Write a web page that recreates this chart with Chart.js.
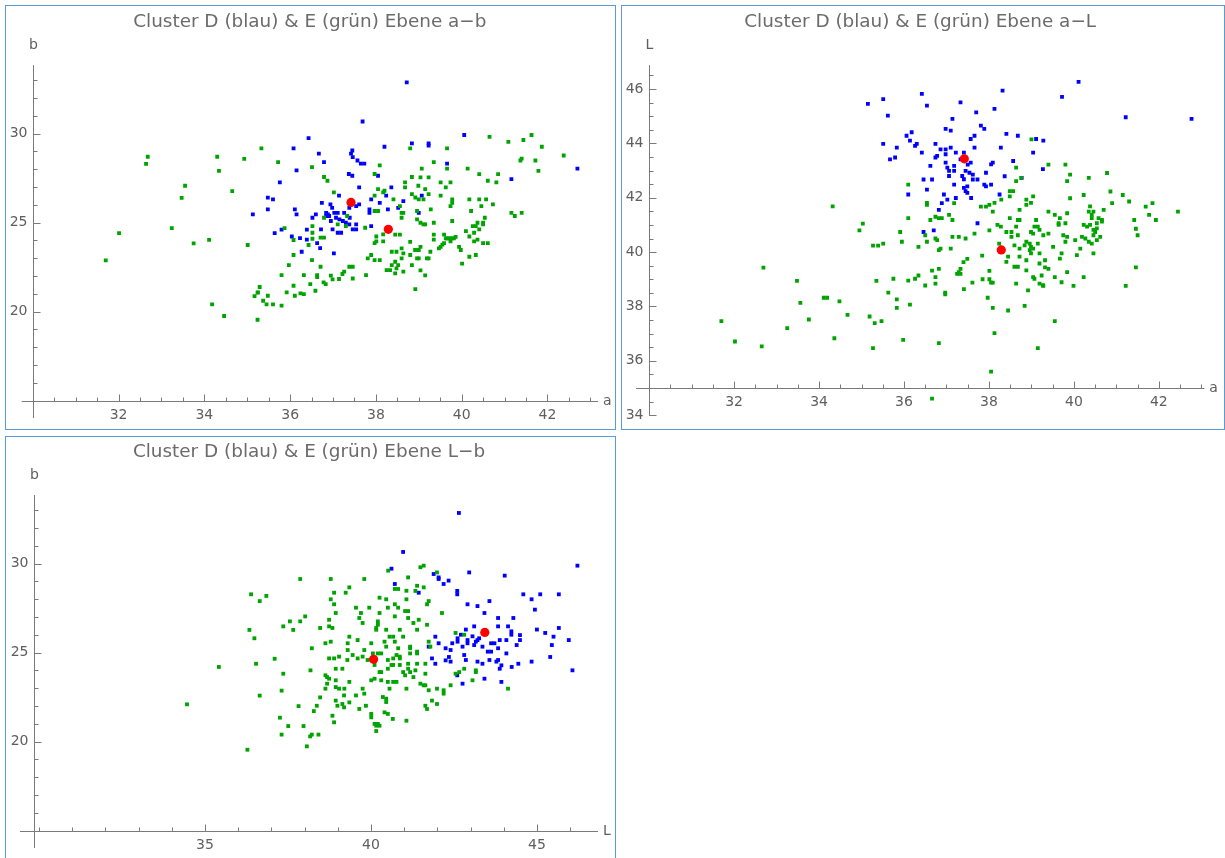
<!DOCTYPE html>
<html>
<head>
<meta charset="utf-8">
<title>Cluster D & E</title>
<script src="https://cdn.jsdelivr.net/npm/chart.js@4.4.1/dist/chart.umd.min.js"></script>
<style>
  html, body { margin: 0; padding: 0; background: #fff; overflow: hidden; }
  .panel { position: absolute; border: 1px solid #5b9bd5; box-sizing: border-box; background: #fff; overflow: hidden; }
  .panel canvas { display: block; }
</style>
</head>
<body>
<div class="panel" style="left:5px;top:5px;width:611px;height:425px"><canvas id="planeAB" width="609" height="423"></canvas></div>
<div class="panel" style="left:621px;top:5px;width:604px;height:425px"><canvas id="planeAL" width="602" height="423"></canvas></div>
<div class="panel" style="left:5px;top:436px;width:611px;height:440px"><canvas id="planeLB" width="609" height="438"></canvas></div>
<script>
// Cluster centres (a, b, L)
const centerA = [37.42, 38.29];
const centerB = [26.13, 24.62];
const centerL = [43.43, 40.08];

// Plane a-b: [a, b]
const abD = [
  [38.72,32.88],[37.69,30.68],[36.43,29.75],[36.08,29.17],[36.67,28.87],[37.45,29.05],[37.42,28.87],[37.46,28.68],
  [37.57,28.49],[37.65,28.31],[37.73,28.31],[36.79,28.40],[38.20,29.26],[38.84,29.45],[36.15,27.93],[37.37,27.73],
  [37.45,27.63],[38.05,27.63],[35.76,27.26],[37.61,26.98],[38.36,26.98],[37.14,26.51],[35.48,26.40],[35.60,26.30],
  [35.48,25.74],[36.11,25.74],[36.15,25.46],[38.24,26.51],[37.89,26.30],[38.09,26.11],[38.64,26.21],[38.52,25.83],
  [36.74,26.11],[36.94,26.02],[36.98,25.83],[37.54,25.93],[37.61,26.02],[37.85,25.74],[37.85,25.55],[38.28,25.74],
  [36.84,25.55],[36.88,25.46],[36.91,25.37],[36.84,25.37],[37.03,25.55],[37.11,25.55],[37.26,25.55],[37.38,25.83],
  [37.39,25.27],[36.60,25.46],[36.52,25.27],[39.00,25.55],[37.15,25.18],[37.07,25.27],[37.23,25.09],[36.95,25.09],
  [37.30,24.99],[37.38,24.90],[37.54,24.90],[37.54,24.62],[37.89,24.80],[36.72,24.62],[36.39,24.60],[35.80,24.60],
  [35.64,24.41],[36.99,24.62],[37.11,24.43],[37.19,24.43],[37.46,24.62],[36.04,24.22],[36.23,24.13],[36.39,24.04],
  [36.63,23.85],[36.70,23.57],[36.27,23.36],[37.02,23.27],[35.13,25.46],[40.06,29.92],[39.23,29.45],[39.23,29.32],
  [39.66,28.31],[42.70,28.03],[41.16,27.44],[39.07,26.51]
];
const abE = [
  [32.68,28.70],[32.64,28.30],[34.30,28.70],[34.93,28.58],[34.34,27.91],[33.55,27.07],[33.47,26.39],[34.65,26.77],
  [33.24,24.69],[32.01,24.41],[33.75,23.83],[34.11,24.03],[35.01,23.74],[31.70,22.88],[35.24,21.06],[35.17,20.87],
  [34.18,20.40],[34.46,19.75],[35.24,19.54],
  [35.33,29.17],[35.72,28.40],[36.51,28.12],[36.79,27.56],[36.87,27.35],[37.02,26.70],[38.09,28.21],[37.97,27.73],
  [38.80,29.17],[38.84,27.56],[38.68,27.26],[38.68,26.98],[38.05,26.88],[38.17,26.70],[38.20,26.79],[37.97,26.51],
  [38.84,26.60],[38.41,26.30],[38.56,25.93],[38.60,25.55],[38.64,25.55],[38.60,25.27],[37.97,25.65],[38.05,25.65],
  [37.33,25.37],[36.79,25.27],[37.11,24.90],[37.30,24.80],[37.75,24.71],[36.52,24.80],[36.52,24.43],[35.87,24.69],
  [36.08,24.02],[36.43,23.74],[36.52,24.09],[36.71,24.15],[36.79,24.15],[38.01,24.22],[38.01,23.94],[38.17,24.34],
  [38.17,23.94],[38.45,24.32],[38.56,24.32],[37.97,23.85],[37.89,23.18],[37.81,22.99],[37.97,22.89],[38.09,22.89],
  [38.37,23.36],[38.48,23.36],[38.60,23.55],[38.64,23.27],[38.80,23.18],[38.92,23.46],[38.60,22.99],[38.45,22.80],
  [38.52,22.61],[38.48,22.43],[38.37,22.61],[38.25,22.33],[38.33,22.33],[38.45,22.15],[38.64,22.24],[38.84,22.61],
  [38.80,23.92],[36.08,23.18],[35.97,22.61],[35.80,22.05],[36.51,22.89],[36.71,22.52],[36.63,22.05],[36.63,21.94],
  [36.32,22.05],[36.95,22.02],[36.99,21.81],[37.22,22.11],[37.26,22.24],[37.38,22.52],[37.46,22.52],[37.46,21.86],
  [37.77,22.05],[37.14,21.83],[36.78,21.64],[36.83,21.54],[36.47,21.54],[36.59,21.17],[36.08,21.45],[35.92,21.08],
  [36.11,20.89],[36.24,21.02],[36.32,20.98],[35.29,21.38],[35.25,21.08],[35.48,20.89],[35.37,20.61],[35.45,20.40],
  [35.60,20.40],[35.80,20.33],
  [40.65,29.82],[41.09,29.54],[41.44,29.64],[41.63,29.92],[41.87,29.26],[42.38,28.77],[39.66,29.17],[39.35,28.40],
  [41.37,28.49],[41.40,28.59],[41.72,28.49],[41.79,27.91],[39.66,28.03],[40.14,28.03],[39.07,28.03],[40.41,27.72],
  [40.85,27.72],[40.61,27.35],[40.81,27.26],[39.04,27.54],[39.23,27.54],[39.51,27.26],[39.74,27.26],[39.63,26.98],
  [38.99,27.07],[39.15,26.88],[39.23,26.60],[39.51,26.51],[38.92,26.41],[39.00,26.30],[39.11,26.30],[39.78,26.30],
  [39.78,26.11],[39.74,25.93],[40.18,26.30],[40.41,26.30],[40.57,26.30],[40.73,26.02],[40.46,25.93],[40.22,25.65],
  [39.28,25.74],[38.96,25.65],[41.16,25.55],[41.24,25.37],[41.40,25.55],[38.96,25.18],[39.04,24.99],[39.11,24.90],
  [39.15,24.90],[39.35,24.99],[39.78,25.09],[40.54,25.27],[40.37,24.99],[40.50,24.90],[40.26,24.80],[40.33,24.80],
  [40.50,24.99],[40.41,24.62],[40.10,24.52],[40.29,24.43],[40.18,24.22],[40.37,24.04],[40.29,23.94],[40.50,23.85],
  [40.61,23.85],[39.35,24.32],[39.35,24.04],[39.59,24.32],[39.63,24.11],[39.66,24.11],[39.70,24.11],[39.74,24.11],
  [39.78,24.11],[39.82,24.11],[39.86,24.20],[39.74,23.94],[39.59,23.85],[39.55,23.76],[39.51,23.64],[39.47,23.55],
  [39.94,23.64],[39.98,23.46],[40.18,23.08],[40.33,23.18],[40.01,22.69],[38.92,23.46],[39.00,23.46],[39.04,23.64],
  [39.27,23.36],[38.96,22.99],[39.00,22.99],[39.19,22.99],[39.23,22.99],[39.04,22.31],[39.15,22.03],[38.92,21.26]
];

// Plane a-L: [a, L]
const aLD = [
  [35.15,45.45],
  [38.32,45.94],[36.42,45.82],[35.51,45.63],[36.54,45.39],[37.33,45.51],[38.13,45.27],[35.62,45.02],[37.70,45.14],
  [37.14,44.90],[37.81,44.65],[37.89,44.53],[36.98,44.53],[37.10,44.47],[38.41,44.35],[38.68,44.28],[37.66,44.28],
  [37.57,44.16],[36.06,44.28],[36.18,44.41],[36.14,44.10],[36.30,43.98],[36.26,43.91],[35.51,43.98],[35.83,43.84],
  [36.74,43.98],[36.86,43.78],[36.98,43.78],[37.10,43.84],[36.42,43.66],[37.22,43.66],[37.41,43.66],[37.66,43.84],
  [38.28,43.84],[39.04,43.66],[39.11,44.16],[39.28,44.10],[36.78,43.54],[36.74,43.48],[36.98,43.60],[35.67,43.41],
  [35.79,43.48],[37.33,43.41],[36.98,43.29],[37.57,43.29],[37.50,43.22],[36.62,43.17],[37.18,43.17],[37.02,43.11],
  [37.06,42.99],[37.18,42.99],[38.09,43.29],[38.05,43.23],[38.57,43.35],[37.45,42.99],[37.54,42.92],[37.93,42.92],
  [39.27,43.05],[37.06,42.80],[37.37,42.80],[37.41,42.68],[37.62,42.85],[37.62,42.67],[37.73,42.67],[38.37,42.79],
  [38.77,42.73],[36.46,42.67],[36.66,42.67],[37.18,42.48],[37.89,42.48],[37.93,42.42],[38.05,42.48],[37.41,42.36],
  [37.49,42.42],[37.45,42.24],[37.49,42.18],[36.54,42.30],[36.10,42.12],[37.58,41.99],[36.94,42.12],[37.22,41.99],
  [37.02,41.93],[36.89,41.80],[36.82,41.55],[38.25,42.12],[37.73,41.06],[36.70,40.80],[36.46,40.74],
  [40.11,46.26],[39.72,45.71],[41.22,44.96],[42.77,44.90]
];
const aLE = [
  [34.32,41.68],[35.03,41.05],[34.95,40.80],[35.27,40.24],[35.39,40.24],[32.69,39.43],[33.48,38.94],[35.35,38.94],
  [34.11,38.32],[34.19,38.32],[33.56,38.13],[34.48,38.19],[34.67,37.69],[35.19,37.63],[35.31,37.39],[31.70,37.46],
  [33.76,37.52],[33.25,37.20],[32.02,36.71],[32.65,36.53],[34.36,36.83],[35.27,36.47],
  [39.00,44.15],[38.64,43.11],[38.64,42.61],[38.76,42.73],[36.10,42.48],[38.49,42.24],[38.57,42.24],[38.49,42.05],
  [38.29,41.93],[38.13,41.81],[38.01,41.74],[37.93,41.67],[37.81,41.67],[38.09,41.49],[36.54,41.81],[36.54,41.74],
  [37.18,41.80],[36.74,41.30],[36.82,41.25],[36.89,41.25],[37.06,41.37],[37.14,41.18],[36.62,41.18],[36.10,41.25],
  [38.72,41.55],[38.88,41.93],[38.99,41.81],[39.04,42.05],[38.88,41.74],[38.49,41.25],[38.68,41.18],[38.72,41.18],
  [38.20,41.00],[38.28,40.94],[38.01,40.80],[38.64,40.94],[39.11,41.18],[39.15,40.94],[39.07,40.94],[38.99,40.74],
  [39.04,40.68],[39.28,40.62],[39.19,40.82],[38.41,40.74],[38.53,40.74],[38.53,40.56],[38.68,40.62],[38.24,40.31],
  [38.60,40.25],[38.72,40.13],[38.84,40.25],[38.88,40.38],[38.96,40.31],[38.99,40.19],[39.04,40.13],[38.96,40.07],
  [39.15,40.31],[39.19,39.95],[38.45,39.83],[38.41,39.64],[38.60,39.46],[38.68,39.46],[38.72,39.83],[38.88,39.70],
  [38.88,39.33],[38.99,39.95],[39.19,39.58],[39.04,39.08],[39.07,39.02],[39.19,38.84],[39.27,38.78],[38.64,38.84],
  [38.92,38.59],[38.84,38.02],[38.45,37.85],[38.13,37.02],[39.15,36.47],[38.05,35.60],[36.66,34.61],[38.01,39.31],
  [38.01,39.00],[38.05,38.88],[38.09,38.88],[37.85,39.00],[37.61,38.88],[37.97,38.32],[38.09,37.95],[37.41,38.64],
  [37.33,39.38],[37.29,39.26],[37.25,39.20],[37.33,39.20],[37.40,39.63],[37.49,39.75],[37.84,39.87],[37.66,40.68],
  [37.45,40.50],[37.29,40.56],[37.14,40.56],[37.10,40.13],[36.82,40.07],[36.86,40.13],[36.74,40.50],[36.78,40.44],
  [36.54,40.38],[36.50,40.62],[36.34,40.19],[35.95,40.38],[35.91,40.74],[35.51,40.31],[36.82,39.38],[36.66,39.32],
  [36.74,39.08],[36.74,38.84],[36.34,39.14],[36.26,39.02],[36.10,38.95],[35.75,39.02],[36.50,38.77],[36.97,38.51],
  [36.97,38.45],[35.63,38.51],[35.83,38.26],[35.83,37.95],[36.14,38.07],[35.47,37.46],[35.98,36.77],[36.82,36.65],
  [39.40,43.22],[39.80,43.22],[39.91,42.85],[39.84,42.61],[40.35,42.73],[40.78,42.91],[39.91,41.98],[40.23,42.10],
  [40.86,42.23],[41.15,42.10],[41.30,41.86],[40.90,41.80],[41.69,41.67],[41.85,41.80],[41.77,41.37],[41.93,41.18],
  [42.45,41.49],[41.42,41.18],[41.46,40.86],[41.50,40.62],[41.46,39.44],[41.22,38.76],[39.40,41.49],[39.55,41.37],
  [39.67,41.25],[39.84,41.43],[39.80,41.06],[39.64,41.06],[39.64,41.00],[40.38,41.68],[40.35,41.49],[40.46,41.49],
  [40.42,41.37],[40.42,41.25],[40.70,41.55],[40.58,41.25],[40.66,41.18],[40.66,41.12],[40.54,41.06],[40.38,41.00],
  [40.31,40.94],[40.23,41.00],[40.46,40.82],[40.54,40.87],[40.50,40.74],[40.46,40.62],[40.62,40.56],[40.54,40.44],
  [40.35,40.38],[40.42,40.31],[40.19,40.56],[40.27,40.50],[40.03,40.44],[40.15,40.13],[40.07,39.89],[40.46,39.95],
  [39.40,40.68],[39.51,40.19],[39.75,40.62],[39.84,40.56],[39.80,40.38],[39.32,39.70],[39.32,39.44],[39.40,39.38],
  [39.24,39.14],[39.28,38.76],[39.71,39.95],[39.67,39.76],[39.84,39.26],[39.55,39.08],[39.71,38.89],[39.99,38.76],
  [40.23,39.08],[39.55,37.46]
];

// Plane L-b: [L, b]
const LbD = [
  [40.97,30.65],[40.62,29.71],[40.72,28.85],[41.44,28.36],[41.89,29.41],[42.04,29.22],[42.04,29.13],[42.19,28.85],
  [42.34,29.04],[41.94,25.89],[42.04,25.52],[41.74,25.33],[42.25,25.24],[41.84,24.67],[41.94,24.37],[42.25,24.56],
  [42.35,24.75],
  [42.65,32.84],[46.22,29.88],[42.96,29.50],[44.03,29.32],[42.60,28.46],[42.60,28.27],[44.59,28.27],[45.10,28.27],
  [45.66,28.27],[44.84,27.99],[43.57,27.89],[42.91,27.71],[43.21,27.61],[44.94,27.41],[43.42,27.22],[43.83,26.94],
  [44.29,26.94],[43.11,26.47],[43.83,26.47],[44.13,26.47],[42.86,26.29],[44.23,26.19],[44.23,26.00],[45.00,26.29],
  [45.25,26.10],[45.66,26.38],[45.50,25.89],[45.96,25.70],[42.71,26.00],[43.06,25.91],[43.26,25.80],[42.61,25.80],
  [42.61,25.61],[42.91,25.70],[42.91,25.52],[43.16,25.61],[43.21,25.70],[43.11,25.42],[42.45,25.52],[42.40,25.14],
  [42.76,25.33],[43.36,25.33],[43.62,25.52],[43.72,25.52],[43.88,25.70],[44.08,25.70],[44.49,25.98],[44.49,25.70],
  [44.39,25.42],[43.83,25.24],[43.52,25.05],[43.62,25.05],[44.08,24.95],[45.45,25.42],[45.40,24.75],[42.81,24.86],
  [42.40,24.49],[42.86,24.58],[43.21,24.49],[43.36,24.37],[43.57,24.58],[43.78,24.49],[43.83,24.58],[43.93,24.28],
  [43.88,24.09],[44.24,24.19],[44.44,24.37],[44.84,24.49],[46.07,24.00],[42.60,23.72],[42.76,23.25],[43.42,23.53],
  [43.93,23.35]
];
const LbE = [
  [37.87,29.13],[36.39,28.27],[36.85,28.18],[36.65,27.89],[38.02,27.03],[37.56,26.75],[37.87,26.75],[37.36,26.47],
  [37.66,26.27],[36.34,26.27],[36.49,25.80],[37.10,24.65],[36.54,24.37],[35.42,24.19],[37.36,23.81],[37.31,22.86],
  [36.65,22.58],[34.46,22.09],[37.82,21.99],[38.28,21.71],[37.26,21.34],[37.51,20.87],[37.97,20.87],[38.22,20.39],
  [38.17,20.29],[37.31,20.39],[38.07,19.73],[36.28,19.54],
  [41.49,29.79],[41.59,29.88],[41.99,29.50],[40.52,29.60],[38.79,29.13],[39.80,29.13],[41.12,29.22],[39.35,28.66],
  [39.24,28.36],[38.89,28.36],[38.79,27.99],[38.89,27.71],[38.94,27.22],[40.72,28.57],[40.82,28.57],[41.07,28.47],
  [41.39,28.75],[41.34,28.46],[41.59,28.66],[41.74,27.89],[41.69,27.71],[40.26,28.08],[40.46,27.99],[41.07,27.99],
  [40.72,27.71],[40.82,27.52],[40.51,27.52],[39.55,27.52],[39.95,27.52],[41.03,27.33],[41.12,27.33],[39.70,27.22],
  [40.26,27.22],[40.72,27.03],[39.65,26.94],[41.12,26.94],[41.44,26.84],[41.28,26.66],[38.74,26.84],[39.75,26.66],
  [40.21,26.75],[40.21,26.56],[40.16,26.38],[40.16,26.28],[38.74,26.47],[38.84,26.38],[38.47,26.38],[41.69,26.56],
  [42.14,27.22],[40.46,26.28],[40.87,26.28],[41.39,26.28],[39.35,25.89],[40.56,25.89],[40.67,25.89],[40.97,25.89],
  [38.63,25.52],[38.79,25.61],[39.30,25.52],[39.60,25.70],[40.01,25.52],[40.41,25.61],[40.72,25.61],[41.74,25.61],
  [41.79,25.33],[38.22,25.24],[39.30,25.14],[39.80,25.14],[40.46,25.33],[40.82,25.24],[41.18,25.33],[41.18,25.24],
  [39.45,24.86],[39.04,24.77],[38.74,24.67],[38.89,24.67],[39.29,24.58],[39.60,24.67],[39.75,24.77],[40.06,24.95],
  [40.21,24.95],[40.31,24.95],[39.90,24.58],[40.51,24.58],[40.67,24.67],[40.77,24.86],[40.87,24.77],[40.87,24.67],
  [41.18,24.95],[41.39,25.05],[41.39,24.95],[40.11,24.30],[40.62,24.30],[40.67,24.30],[40.87,24.30],[40.51,24.09],
  [41.12,24.37],[41.12,24.09],[41.18,23.90],[40.97,23.90],[41.03,23.72],[41.39,24.37],[41.64,24.37],[41.34,24.00],
  [38.18,24.00],[38.94,24.09],[39.14,24.09],[40.26,23.90],[40.31,23.90],[41.64,23.81],[41.28,23.62],[38.63,23.72],
  [38.68,23.62],[38.74,23.53],[38.94,23.44],[39.35,23.35],[40.01,23.44],[40.11,23.53],[40.31,23.44],[40.51,23.35],
  [40.67,23.35],[40.77,23.35],[41.49,23.25],[41.59,23.16],[41.64,23.16],[38.68,23.25],[38.63,22.97],[38.94,23.06],
  [39.04,22.97],[39.20,22.97],[39.75,22.97],[40.56,22.97],[41.07,22.97],[41.74,22.88],[41.99,22.97],[42.19,22.88],
  [42.19,22.69],[38.47,22.48],[39.19,22.59],[39.55,22.59],[39.80,22.69],[40.36,22.50],[40.46,22.41],[40.46,22.22],
  [38.94,22.30],[39.14,22.11],[39.19,21.92],[38.99,22.01],[39.35,22.20],[39.65,21.83],[39.85,22.01],[38.37,22.01],
  [41.84,22.30],[41.99,22.11],[41.64,22.01],[41.69,21.83],[40.41,21.64],[40.51,21.55],[40.66,21.27],[40.01,21.55],
  [40.01,21.36],[41.07,21.17],[38.84,21.45],[38.89,21.08],[40.11,20.99],[40.21,20.99],[40.26,20.89],[40.16,20.89],
  [40.16,20.59],[38.42,20.39],
  [42.55,26.10],[42.81,26.00],[42.81,24.09],[42.66,23.90],[42.55,23.81],[43.16,24.00],[43.16,23.90],[43.06,23.44],
  [42.40,23.16],[44.13,22.97]
];

// Tick labels
const aTicks = [32, 34, 36, 38, 40, 42];
const bTicks = [20, 25, 30];
const LTicksVertical = [34, 36, 38, 40, 42, 44, 46];
const LTicksHorizontal = [35, 40, 45];

const toXY = pairs => pairs.map(([x, y]) => ({ x, y }));
const centres = (xs, ys) => xs.map((x, i) => ({ x, y: ys[i] }));

// Mathematica-style axes: lines crossing at an origin, inward major/minor ticks
const crossAxes = {
  id: 'crossAxes',
  beforeDatasetsDraw(chart, _args, o) {
    const { ctx } = chart;
    const xs = chart.scales.x, ys = chart.scales.y;
    const crisp = v => Math.round(v) + 0.5;
    const axisY = crisp(ys.getPixelForValue(o.crossY));
    const axisX = crisp(xs.getPixelForValue(o.crossX));
    ctx.save();
    ctx.strokeStyle = o.lineColor;
    ctx.lineWidth = 1;
    ctx.beginPath();
    ctx.moveTo(xs.left, axisY); ctx.lineTo(xs.right, axisY);
    ctx.moveTo(axisX, ys.top); ctx.lineTo(axisX, ys.bottom);
    const eachTick = (scale, step, majors, cross, draw) => {
      for (let i = Math.ceil(scale.min / step - 1e-9); i * step <= scale.max + 1e-9; i++) {
        const v = Math.round(i * step * 1000) / 1000;
        if (Math.abs(v - cross) < 1e-6) continue;
        const major = majors.some(m => Math.abs(m - v) < 1e-6);
        draw(crisp(scale.getPixelForValue(v)), major ? o.majorLen : o.minorLen);
      }
    };
    eachTick(xs, o.xMinor, o.xTicks, o.crossX, (p, len) => { ctx.moveTo(p, axisY); ctx.lineTo(p, axisY - len); });
    eachTick(ys, o.yMinor, o.yTicks, o.crossY, (p, len) => { ctx.moveTo(axisX, p); ctx.lineTo(axisX + len, p); });
    ctx.stroke();

    ctx.fillStyle = o.textColor;
    ctx.font = o.font;
    ctx.textBaseline = 'middle';
    ctx.textAlign = 'center';
    o.xTicks.forEach(v => ctx.fillText(String(v), xs.getPixelForValue(v), axisY + 14));
    ctx.textAlign = 'right';
    o.yTicks.forEach(v => ctx.fillText(String(v), axisX - 6, ys.getPixelForValue(v)));
    ctx.textAlign = 'left';
    ctx.fillText(o.xName, xs.right + 5, axisY);
    ctx.textAlign = 'center';
    ctx.fillText(o.yName, axisX, ys.top - 20);
    ctx.restore();
  }
};

function plane(canvasId, p) {
  return new Chart(document.getElementById(canvasId), {
    type: 'scatter',
    data: {
      datasets: [
        { label: 'Zentren', data: p.centres, order: 0,
          pointStyle: 'circle', pointRadius: 4.6, pointBackgroundColor: '#ff0000', pointBorderWidth: 0, backgroundColor: '#ff0000' },
        { label: 'Cluster E', data: toXY(p.e), order: 1,
          pointStyle: 'rect', pointRadius: 2.7, pointBackgroundColor: '#00a400', pointBorderWidth: 0, backgroundColor: '#00a400' },
        { label: 'Cluster D', data: toXY(p.d), order: 2,
          pointStyle: 'rect', pointRadius: 2.7, pointBackgroundColor: '#0000ff', pointBorderWidth: 0, backgroundColor: '#0000ff' }
      ]
    },
    options: {
      responsive: false,
      animation: false,
      events: [],
      layout: { autoPadding: false, padding: p.padding },
      scales: {
        x: { type: 'linear', display: false, bounds: 'data', min: p.xRange[0], max: p.xRange[1] },
        y: { type: 'linear', display: false, bounds: 'data', min: p.yRange[0], max: p.yRange[1] }
      },
      plugins: {
        legend: { display: false },
        tooltip: { enabled: false },
        title: {
          display: true, text: p.title, color: '#6b6b6b',
          font: { family: 'DejaVu Sans', size: 18.4, weight: 'normal', lineHeight: 1.2 },
          padding: p.titlePadding
        },
        crossAxes: Object.assign({
          lineColor: '#7a7a7a', textColor: '#5e5e5e', font: '14px "DejaVu Sans"',
          majorLen: 7, minorLen: 4
        }, p.axes)
      }
    },
    plugins: [crossAxes]
  });
}

plane('planeAB', {
  title: 'Cluster D (blau) & E (grün) Ebene a\u2212b',
  d: abD, e: abE, centres: centres(centerA, centerB),
  xRange: [29.74, 43.18], yRange: [14.02, 33.85],
  padding: { left: 15.7, right: 17, top: 0, bottom: 11 },
  titlePadding: { top: 5, bottom: 32 },
  axes: { crossX: 30, crossY: 15, xTicks: aTicks, yTicks: bTicks, xMinor: 0.5, yMinor: 1, xName: 'a', yName: 'b' }
});

plane('planeAL', {
  title: 'Cluster D (blau) & E (grün) Ebene a\u2212L',
  d: aLD, e: aLE, centres: centres(centerA, centerL),
  xRange: [29.69, 43.07], yRange: [33.97, 46.88],
  padding: { left: 14, right: 19.7, top: 0, bottom: 13 },
  titlePadding: { top: 5, bottom: 32 },
  axes: { crossX: 30, crossY: 35, xTicks: aTicks, yTicks: LTicksVertical, xMinor: 0.5, yMinor: 0.5, xName: 'a', yName: 'L' }
});

plane('planeLB', {
  title: 'Cluster D (blau) & E (grün) Ebene L\u2212b',
  d: LbD, e: LbE, centres: centres(centerL, centerB),
  xRange: [29.43, 46.84], yRange: [14.02, 33.85],
  padding: { left: 14, right: 17, top: 0, bottom: 27 },
  titlePadding: { top: 4, bottom: 31.9 },
  axes: { crossX: 29.85, crossY: 15, xTicks: LTicksHorizontal, yTicks: bTicks, xMinor: 1, yMinor: 1, xName: 'L', yName: 'b' }
});
</script>
</body>
</html>
